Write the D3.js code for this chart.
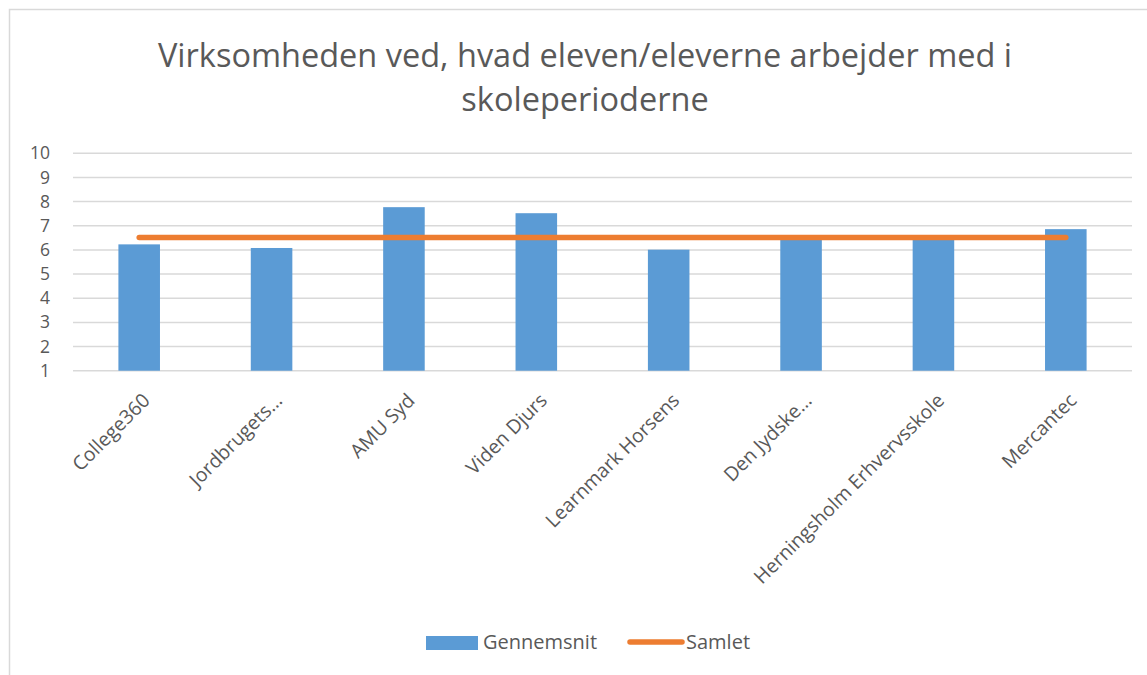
<!DOCTYPE html>
<html>
<head>
<meta charset="utf-8">
<script src="https://cdn.jsdelivr.net/npm/d3@7"></script>
<style>
body { margin: 0; background: #fff; }
text { font-family: "Open Sans", "Noto Sans", sans-serif; fill: #595959; }
</style>
</head>
<body>
<div id="chart"></div>
<script>
// data
const schools = ["College360", "Jordbrugets…", "AMU Syd", "Viden Djurs", "Learnmark Horsens", "Den Jydske…", "Herningsholm Erhvervsskole", "Mercantec"];
const gennemsnit = [6.23, 6.08, 7.77, 7.52, 6.01, 6.45, 6.45, 6.86];
const samlet = [6.51, 6.51, 6.51, 6.51, 6.51, 6.51, 6.51, 6.51];
const yTicks = [1, 2, 3, 4, 5, 6, 7, 8, 9, 10];
const titleLines = ["Virksomheden ved, hvad eleven/eleverne arbejder med i", "skoleperioderne"];

const width = 1147, height = 675;
const svg = d3.select("#chart").append("svg").attr("width", width).attr("height", height);

// chart area border
svg.append("rect").attr("x", 9.5).attr("y", 9.5).attr("width", width + 10).attr("height", height + 10)
  .attr("fill", "none").attr("stroke", "#d9d9d9").attr("stroke-width", 1.5);

// title
svg.append("g").selectAll("text").data(titleLines).enter().append("text")
  .attr("x", 585).attr("y", (d, i) => 67 + i * 44)
  .attr("text-anchor", "middle").style("font-size", "32.5px")
  .text(d => d);

// scales
const x = d3.scaleBand().domain(schools).range([73, 1132]).paddingInner(0.686).paddingOuter(0.343);
const xc = d3.scaleBand().domain(schools).range([73, 1132]);
const y = d3.scaleLinear().domain([1, 10]).range([370.7, 153.3]);

// gridlines
svg.append("g").selectAll("line").data(yTicks).enter().append("line")
  .attr("x1", 73).attr("x2", 1132)
  .attr("y1", d => y(d)).attr("y2", d => y(d))
  .attr("stroke", "#d9d9d9").attr("stroke-width", 1.5);

// y axis
const yAxis = svg.append("g").attr("transform", "translate(73,0)")
  .call(d3.axisLeft(y).tickValues(yTicks).tickSize(0).tickPadding(23));
yAxis.select(".domain").remove();
yAxis.selectAll("text").style("font-size", "17.5px").style("font-family", "'Open Sans', sans-serif").attr("fill", "#595959");

// bars
svg.append("g").selectAll("rect").data(gennemsnit).enter().append("rect")
  .attr("x", (d, i) => x(schools[i]))
  .attr("y", d => y(d))
  .attr("width", x.bandwidth())
  .attr("height", d => y(1) - y(d))
  .attr("fill", "#5b9bd5");

// line
const line = d3.line().x((d, i) => xc(schools[i]) + xc.bandwidth() / 2).y(d => y(d));
svg.append("path").datum(samlet).attr("d", line)
  .attr("fill", "none").attr("stroke", "#ed7d31").attr("stroke-width", 5.5).attr("stroke-linecap", "round");

// x labels
const xAxis = svg.append("g").attr("transform", "translate(0," + y(1) + ")")
  .call(d3.axisBottom(xc).tickSize(0).tickPadding(0));
xAxis.select(".domain").remove();
xAxis.selectAll("text")
  .style("font-size", "19.5px").style("font-family", "'Open Sans', sans-serif").attr("fill", "#595959")
  .attr("text-anchor", "end").attr("dy", null).attr("y", 0)
  .attr("transform", "translate(12,31) rotate(-45)");

// legend
const legend = svg.append("g");
legend.append("rect").attr("x", 426).attr("y", 636).attr("width", 52).attr("height", 14).attr("fill", "#5b9bd5");
legend.append("text").attr("x", 483).attr("y", 649).style("font-size", "20px").text("Gennemsnit");
legend.append("line").attr("x1", 630).attr("x2", 682).attr("y1", 642).attr("y2", 642)
  .attr("stroke", "#ed7d31").attr("stroke-width", 5.5).attr("stroke-linecap", "round");
legend.append("text").attr("x", 686).attr("y", 649).style("font-size", "20px").text("Samlet");
</script>
</body>
</html>
